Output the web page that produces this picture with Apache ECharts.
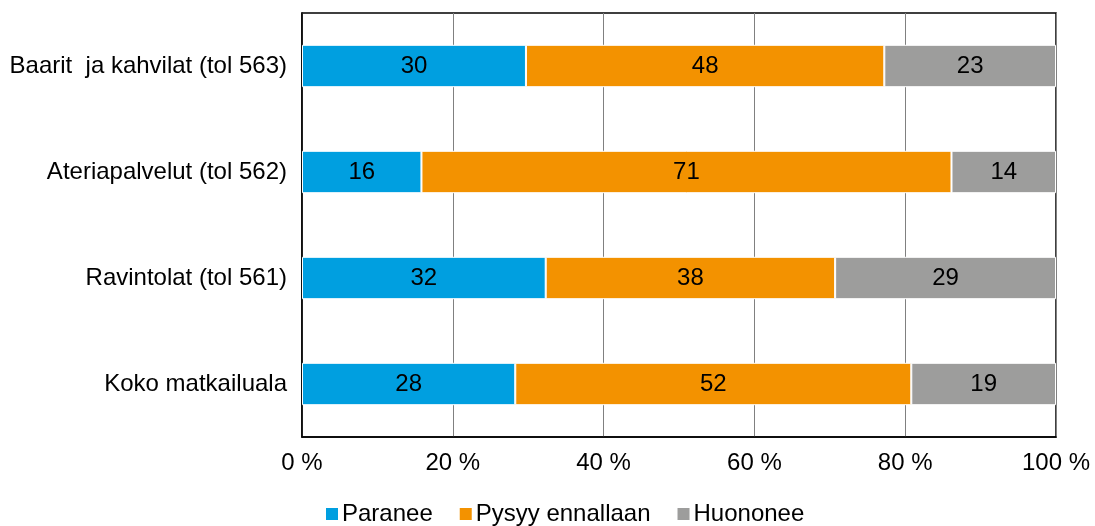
<!DOCTYPE html>
<html><head><meta charset="utf-8">
<script src="https://cdn.jsdelivr.net/npm/echarts@6/dist/echarts.min.js"></script>
<style>html,body{margin:0;padding:0;background:#fff}#c{width:1095px;height:526px}</style>
</head><body><div id="c"></div>
<script>
const categories = ['Koko matkailuala', 'Ravintolat (tol 561)', 'Ateriapalvelut (tol 562)', 'Baarit  ja kahvilat (tol 563)'];
const seriesNames = ['Paranee', 'Pysyy ennallaan', 'Huononee'];
const paranee = [28, 32, 16, 30];
const pysyy = [52, 38, 71, 48];
const huononee = [19, 29, 14, 23];
const tickLabels = ['0 %', '20 %', '40 %', '60 %', '80 %', '100 %'];
const colors = ['#009FE0', '#F39200', '#9D9D9C'];

const raw = [paranee, pysyy, huononee];
const totals = categories.map((_, i) => raw.reduce((s, a) => s + a[i], 0));
const FONT = 'Liberation Sans, Arial, sans-serif';
const FS = 24;

const chart = echarts.init(document.getElementById('c'), null, {renderer: 'canvas'});
chart.setOption({
  animation: false,
  textStyle: {fontFamily: FONT},
  grid: {left: 302, right: 39, top: 13, bottom: 89, show: true, borderColor: '#000', borderWidth: 1.5, containLabel: false},
  legend: {
    top: 502, left: 324, padding: 0, icon: 'rect', itemWidth: 14, itemHeight: 14, itemGap: 25,
    textStyle: {fontSize: FS, color: '#000', fontFamily: FONT, padding: [0, 0, 0, -2]},
    data: seriesNames
  },
  xAxis: {
    type: 'value', min: 0, max: 100, interval: 20,
    axisLine: {show: true, lineStyle: {color: '#000', width: 1.5}},
    axisTick: {show: false},
    splitLine: {show: true, lineStyle: {color: '#808080', width: 1}},
    axisLabel: {fontSize: FS, color: '#000', margin: 14, fontFamily: FONT,
      formatter: v => tickLabels[Math.round(v / 20)]}
  },
  yAxis: {
    type: 'category', data: categories,
    axisLine: {show: true, lineStyle: {color: '#000', width: 1.5}},
    axisTick: {show: false},
    axisLabel: {fontSize: FS, color: '#000', margin: 15, fontFamily: FONT}
  },
  series: seriesNames.map((name, k) => ({
    name, type: 'bar', stack: 'total', barWidth: '40%',
    itemStyle: {color: colors[k], borderColor: '#fff', borderWidth: 1},
    label: {show: true, position: 'inside', color: '#000', fontSize: FS, fontFamily: FONT,
      formatter: p => String(raw[k][p.dataIndex])},
    data: raw[k].map((v, i) => v / totals[i] * 100)
  }))
});
</script></body></html>
